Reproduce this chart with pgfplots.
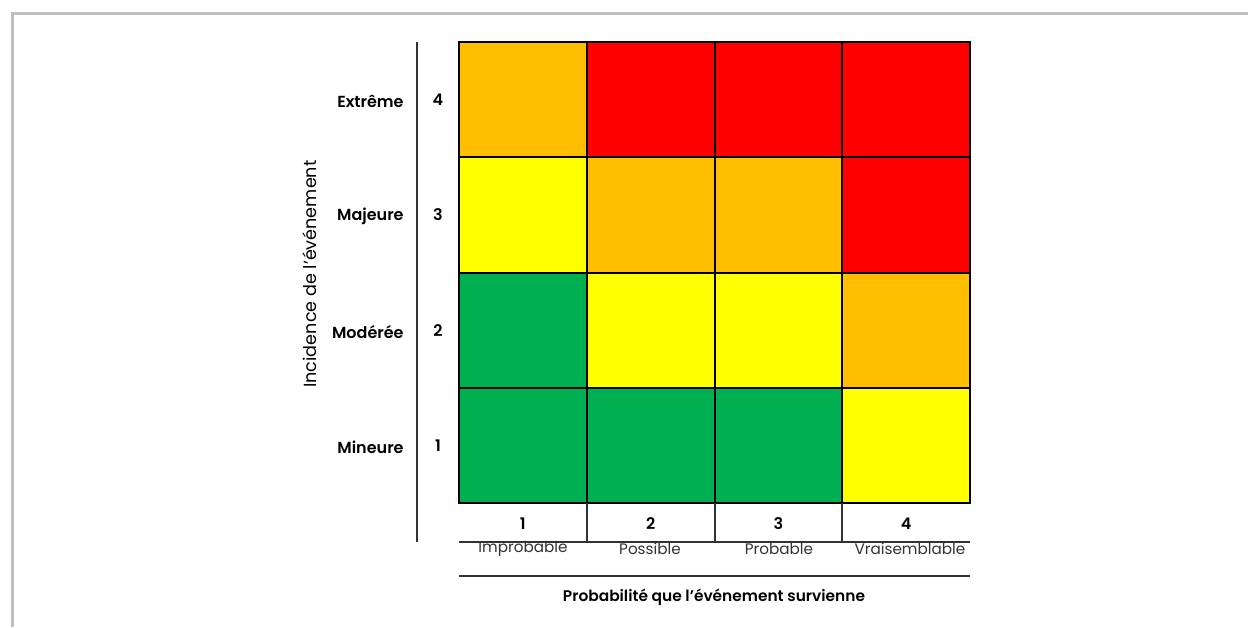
\documentclass[border=0pt]{standalone}
\usepackage{fontspec}
\setmainfont{Poppins}[BoldFont={Poppins SemiBold}]
\usepackage{pgfplots}
\pgfplotsset{compat=1.18}

\definecolor{framegray}{RGB}{190,190,193}
\definecolor{linegray}{RGB}{50,50,50}

% cell colour index: 0 green, 1 yellow, 2 orange, 3 red
\pgfplotstableread{
x y C
1 1 0
2 1 0
3 1 0
4 1 1
1 2 0
2 2 1
3 2 1
4 2 2
1 3 1
2 3 2
3 3 2
4 3 3
1 4 2
2 4 3
3 4 3
4 4 3
}\riskdata

\newcommand{\lab}{\fontsize{8}{9.6}\selectfont\bfseries}

\begin{document}
\begin{tikzpicture}[x=0.5pt,y=-0.5pt]
\useasboundingbox (0,0) rectangle (1248,627);
\draw[framegray, line width=1.5pt] (12.5,627) -- (12.5,13.5) -- (1248,13.5);

\begin{axis}[
  at={(229.5pt,-251.5pt)}, anchor=south west,
  width=255.5pt, height=230.5pt, scale only axis,
  xmin=0.5, xmax=4.5, ymin=0.5, ymax=4.5,
  xtick={1,2,3,4}, ytick={1,2,3,4},
  xticklabels={1,2,3,4}, yticklabels={1,2,3,4},
  minor xtick={1.5,2.5,3.5}, minor ytick={1.5,2.5,3.5},
  grid=minor,
  minor grid style={black, line width=1pt},
  axis line style={black, line width=1pt},
  major tick length=0pt, minor tick length=0pt,
  tick label style={font=\lab, anchor=center},
  xticklabel style={yshift=-10.5pt},
  yticklabel style={xshift=-10.5pt},
  axis on top,
  colormap={risk}{rgb255=(0,176,80) rgb255=(255,255,0) rgb255=(255,192,0) rgb255=(255,0,0)},
  point meta min=0, point meta max=3,
]
\addplot[matrix plot*, mesh/cols=4, point meta=explicit] table[meta=C] {\riskdata};
\end{axis}

% left scale
\draw[linegray, line width=0.7pt] (417,42) -- (417,542);
\node[anchor=east, inner sep=0pt, font=\lab] at (404,101) {Extrême};
\node[anchor=east, inner sep=0pt, font=\lab] at (404,216) {Majeure};
\node[anchor=east, inner sep=0pt, font=\lab] at (404,332) {Modérée};
\node[anchor=east, inner sep=0pt, font=\lab] at (404,447) {Mineure};
\node[rotate=90, font=\fontsize{8.8}{10}\selectfont] at (310,274) {Incidence de l’événement};

% bottom scale
\foreach \t/\x in {Improbable/523, Possible/650, Probable/779, Vraisemblable/910}
  \node[font=\fontsize{7.6}{8}\selectfont, text=linegray] at (\x,549) {\t};
\foreach \x in {587,715,842}
  \draw[linegray, line width=0.6pt] (\x,503) -- (\x,542);
\draw[linegray, line width=0.6pt] (459,542) -- (970,542);
\draw[linegray, line width=0.6pt] (459,576) -- (970,576);
\node[font=\fontsize{7.7}{9}\selectfont\bfseries] at (714,597) {Probabilité que l’événement survienne};
\end{tikzpicture}
\end{document}
